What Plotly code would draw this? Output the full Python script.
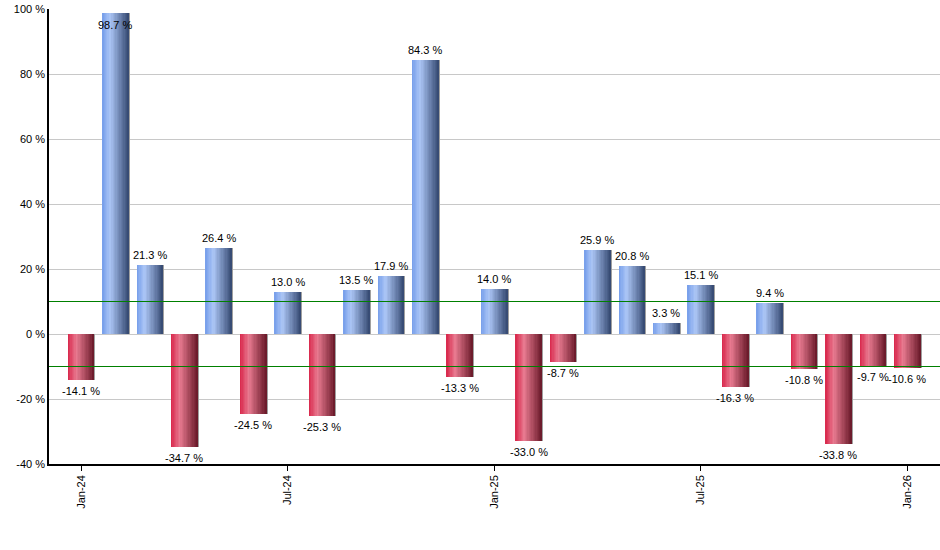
import plotly.graph_objects as go

months = ['Jan-24', 'Feb-24', 'Mar-24', 'Apr-24', 'May-24', 'Jun-24', 'Jul-24',
          'Aug-24', 'Sep-24', 'Oct-24', 'Nov-24', 'Dec-24', 'Jan-25', 'Feb-25',
          'Mar-25', 'Apr-25', 'May-25', 'Jun-25', 'Jul-25', 'Aug-25', 'Sep-25',
          'Oct-25', 'Nov-25', 'Dec-25', 'Jan-26']
values = [-14.1, 98.7, 21.3, -34.7, 26.4, -24.5, 13.0, -25.3, 13.5, 17.9, 84.3,
          -13.3, 14.0, -33.0, -8.7, 25.9, 20.8, 3.3, 15.1, -16.3, 9.4, -10.8,
          -33.8, -9.7, -10.6]
tick_labels = ['Jan-24', 'Jul-24', 'Jan-25', 'Jul-25', 'Jan-26']
ref_lines = [10, -10]
y_ticks = [-40, -20, 0, 20, 40, 60, 80, 100]

xs = list(range(len(months)))
tick_pos = [months.index(t) for t in tick_labels]

# colour stops for the cylinder look (left -> right)
blue_stops = [(0.0, (118, 158, 234)), (0.3, (172, 198, 246)), (1.0, (52, 72, 112))]
red_stops = [(0.0, (216, 38, 74)), (0.33, (232, 122, 144)), (1.0, (104, 24, 40))]


def shade(stops, t):
    for (t0, c0), (t1, c1) in zip(stops, stops[1:]):
        if t <= t1:
            f = (t - t0) / (t1 - t0)
            return 'rgb(%d,%d,%d)' % tuple(round(a + (b - a) * f) for a, b in zip(c0, c1))
    return 'rgb(%d,%d,%d)' % stops[-1][1]


bar_w = 0.77
n_slices = 20
slice_w = bar_w / n_slices

fig = go.Figure()

# soft shadow behind each bar
fig.add_trace(go.Bar(x=xs, y=values, width=bar_w, offset=-bar_w / 2 + 0.035,
                     marker=dict(color='rgb(160,160,160)', line_width=0),
                     hoverinfo='skip', showlegend=False))

# each slice runs to the right edge of the bar, later slices drawn on top
for i in range(n_slices):
    t = (i + 0.5) / n_slices
    cols = [shade(blue_stops, t) if v >= 0 else shade(red_stops, t) for v in values]
    fig.add_trace(go.Bar(x=xs, y=values, width=bar_w - i * slice_w,
                         offset=-bar_w / 2 + i * slice_w,
                         marker=dict(color=cols, line_width=0),
                         hoverinfo='skip', showlegend=False))

for x, v in zip(xs, values):
    if v > 95:
        anc, shift = 'top', -4
    elif v >= 0:
        anc, shift = 'bottom', 2
    else:
        anc, shift = 'top', -3
    fig.add_annotation(x=x, y=v, text='%.1f %%' % v, showarrow=False,
                       yanchor=anc, yshift=shift,
                       font=dict(family='Liberation Sans, Arial', size=11, color='black'))

for r in ref_lines:
    fig.add_shape(type='line', xref='paper', x0=0, x1=1, yref='y', y0=r, y1=r,
                  line=dict(color='green', width=1.2), layer='above')

fig.update_layout(
    width=940, height=550,
    margin=dict(l=49, r=0, t=9, b=86),
    paper_bgcolor='white', plot_bgcolor='white',
    barmode='overlay', bargap=0,
    font=dict(family='Liberation Sans, Arial', size=11, color='black'),
    showlegend=False,
)
fig.update_xaxes(range=[-0.93, 24.95], tickvals=tick_pos, ticktext=tick_labels,
                 tickangle=-90, ticks='outside', ticklen=5, tickcolor='black',
                 showline=True, linecolor='black', linewidth=1.5, showgrid=False,
                 zeroline=False, automargin=False)
fig.update_yaxes(range=[-40, 100], tickvals=y_ticks,
                 ticktext=['%d %%' % v for v in y_ticks],
                 ticks='', showline=True, linecolor='black', linewidth=1.5,
                 showgrid=True, gridcolor='rgb(200,200,200)', gridwidth=1,
                 zeroline=False, automargin=False)

# drop the default page margin so the figure sits at the window corner
fig.write_html("out.html", config={'displayModeBar': False},
               post_script="document.body.style.margin='0px';")
